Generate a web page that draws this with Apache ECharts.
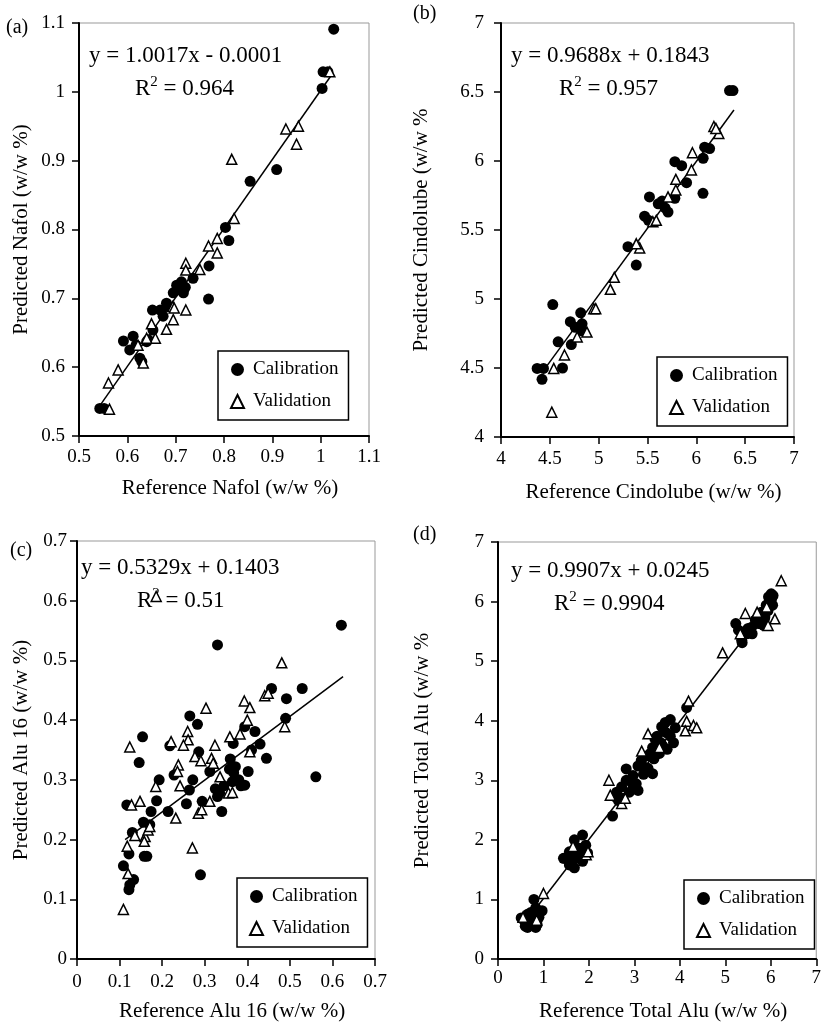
<!DOCTYPE html>
<html><head><meta charset="utf-8">
<script src="https://cdn.jsdelivr.net/npm/echarts@6/dist/echarts.min.js"></script>
<style>html,body{margin:0;padding:0;background:#fff}#c{width:824px;height:1023px}</style>
</head><body><div id="c"></div>
<script>
// ---------- data ----------
const seriesNames = ['Calibration', 'Validation'];

// (a) Nafol
const calA = [[1.027,1.091],[1.005,1.029],[1.015,1.029],[1.003,1.005],[0.909,0.887],[0.854,0.870],[0.803,0.803],[0.810,0.784],[0.769,0.747],[0.768,0.699],[0.736,0.729],[0.716,0.708],[0.712,0.724],[0.702,0.719],[0.695,0.708],[0.706,0.713],[0.720,0.716],[0.681,0.693],[0.674,0.674],[0.668,0.683],[0.684,0.688],[0.652,0.683],[0.653,0.654],[0.643,0.640],[0.640,0.637],[0.592,0.638],[0.612,0.645],[0.605,0.625],[0.626,0.613],[0.630,0.608],[0.618,0.632],[0.543,0.540],[0.552,0.540]];
const valA = [[1.019,1.029],[0.954,0.950],[0.928,0.946],[0.950,0.924],[0.816,0.902],[0.821,0.816],[0.786,0.787],[0.768,0.776],[0.786,0.766],[0.750,0.742],[0.721,0.751],[0.721,0.741],[0.721,0.683],[0.695,0.669],[0.694,0.688],[0.681,0.655],[0.697,0.686],[0.650,0.663],[0.658,0.642],[0.633,0.606],[0.581,0.596],[0.561,0.577],[0.563,0.539],[0.622,0.632],[0.640,0.642]];
const fitA = [[0.545,0.546],[1.025,1.027]];
const eqA = ['y = 1.0017x - 0.0001', '0.964'];

// (b) Cindolube
const calB = [[6.34,6.51],[6.375,6.51],[6.085,6.10],[6.136,6.09],[6.07,6.02],[5.78,5.995],[5.85,5.966],[5.90,5.843],[6.068,5.766],[5.78,5.73],[5.52,5.74],[5.61,5.69],[5.68,5.66],[5.71,5.63],[5.65,5.71],[5.47,5.60],[5.51,5.57],[5.30,5.379],[5.385,5.246],[4.53,4.96],[4.816,4.90],[4.71,4.836],[4.76,4.795],[4.83,4.82],[4.83,4.77],[4.585,4.69],[4.72,4.67],[4.37,4.497],[4.435,4.497],[4.42,4.418],[4.63,4.50]];
const valB = [[4.52,4.18],[4.54,4.497],[4.65,4.594],[4.88,4.76],[4.78,4.725],[4.95,4.93],[4.97,4.93],[5.12,5.07],[5.16,5.157],[5.42,5.37],[5.385,5.40],[5.555,5.56],[5.59,5.57],[5.71,5.74],[5.79,5.79],[5.79,5.867],[5.95,5.935],[5.96,6.06],[6.18,6.25],[6.23,6.20],[6.20,6.236]];
const fitB = [[4.47,4.515],[6.385,6.370]];
const eqB = ['y = 0.9688x + 0.1843', '0.957'];

// (c) Alu 16
const calC = [[0.621,0.559],[0.330,0.526],[0.529,0.453],[0.457,0.453],[0.492,0.436],[0.490,0.403],[0.265,0.407],[0.283,0.393],[0.154,0.372],[0.218,0.357],[0.146,0.329],[0.286,0.347],[0.394,0.389],[0.418,0.381],[0.367,0.361],[0.430,0.360],[0.410,0.350],[0.445,0.336],[0.360,0.335],[0.372,0.322],[0.358,0.318],[0.368,0.312],[0.402,0.314],[0.312,0.314],[0.228,0.308],[0.272,0.300],[0.193,0.300],[0.394,0.291],[0.365,0.297],[0.264,0.283],[0.325,0.285],[0.335,0.278],[0.345,0.290],[0.330,0.272],[0.187,0.265],[0.117,0.258],[0.257,0.260],[0.294,0.264],[0.174,0.247],[0.214,0.247],[0.340,0.247],[0.156,0.229],[0.171,0.225],[0.130,0.212],[0.122,0.176],[0.158,0.172],[0.164,0.172],[0.290,0.141],[0.109,0.156],[0.133,0.133],[0.124,0.124],[0.122,0.116],[0.561,0.305],[0.380,0.300],[0.385,0.290]];
const valC = [[0.186,0.607],[0.481,0.496],[0.393,0.432],[0.406,0.421],[0.441,0.441],[0.449,0.445],[0.488,0.389],[0.303,0.420],[0.260,0.381],[0.261,0.367],[0.250,0.358],[0.221,0.364],[0.124,0.355],[0.324,0.358],[0.359,0.372],[0.383,0.377],[0.400,0.400],[0.277,0.339],[0.291,0.332],[0.316,0.336],[0.320,0.328],[0.238,0.325],[0.236,0.314],[0.336,0.305],[0.406,0.347],[0.242,0.290],[0.185,0.289],[0.148,0.264],[0.128,0.258],[0.232,0.236],[0.285,0.244],[0.293,0.250],[0.312,0.264],[0.356,0.278],[0.365,0.279],[0.160,0.205],[0.158,0.197],[0.136,0.207],[0.118,0.189],[0.271,0.186],[0.120,0.143],[0.109,0.083],[0.167,0.216],[0.171,0.222]];
const fitC = [[0.113,0.200],[0.625,0.473]];
const eqC = ['y = 0.5329x + 0.1403', '0.51'];

// (d) Total Alu
const calD = [[6.01,6.13],[5.97,6.02],[5.90,5.94],[6.04,5.94],[5.79,5.82],[5.86,5.71],[5.68,5.69],[5.58,5.57],[5.47,5.46],[5.36,5.35],[5.23,5.63],[5.29,5.52],[5.37,5.31],[5.59,5.46],[5.73,5.63],[5.87,5.74],[5.94,5.85],[5.98,6.02],[5.84,5.60],[5.66,5.69],[6.05,6.10],[5.95,6.08],[5.50,5.55],[5.78,5.65],[6.02,6.05],
 [4.15,4.22],[3.79,4.02],[3.68,3.97],[3.90,3.88],[3.65,3.83],[3.79,3.74],[3.50,3.74],[3.58,3.63],[3.86,3.63],[3.72,3.52],[3.40,3.55],[3.29,3.41],[3.43,3.36],[3.15,3.33],[3.40,3.11],[3.08,3.24],[2.82,3.19],[2.97,3.08],[3.04,2.94],[2.82,3.00],[2.72,2.89],[2.89,2.80],[2.61,2.80],[2.65,2.66],[2.52,2.40],[3.01,2.91],[3.08,2.83],[2.58,2.72],[3.15,3.30],[3.55,3.45],[3.30,3.20],[3.60,3.90],[3.20,3.10],[2.75,2.70],[3.45,3.70],[3.70,3.80],[3.35,3.45],[2.95,2.95],[3.25,3.20],[3.62,3.58],
 [1.86,2.08],[1.68,2.00],[1.93,1.91],[1.79,1.86],[1.57,1.80],[1.97,1.78],[1.47,1.69],[1.71,1.69],[1.86,1.64],[1.57,1.58],[1.68,1.53],[1.44,1.69],[1.80,1.75],[1.62,1.65],[1.90,1.85],[1.75,1.80],[1.65,1.72],
 [0.65,0.53],[0.58,0.64],[0.51,0.69],[0.72,0.78],[0.83,0.86],[0.79,1.00],[0.97,0.81],[0.86,0.58],[0.72,0.58],[0.65,0.75],[0.83,0.53],[0.60,0.55],[0.75,0.68],[0.90,0.70],[0.70,0.65],[0.80,0.75]];
const valD = [[6.23,6.35],[6.09,5.71],[5.44,5.80],[5.70,5.82],[5.33,5.46],[4.94,5.14],[5.91,5.91],[5.94,5.60],[4.19,4.33],[4.15,3.99],[4.30,3.92],[4.37,3.88],[4.12,3.83],[3.30,3.78],[3.16,3.49],[2.44,3.00],[2.47,2.75],[2.72,2.61],[1.00,1.10],[1.94,1.75],[1.98,1.80],[1.65,1.89],[2.80,2.70],[3.55,3.55],[0.55,0.70],[0.85,0.65]];
const fitD = [[0.5,0.520],[5.9,5.870]];
const eqD = ['y = 0.9907x + 0.0245', '0.9904'];

// axis ranges / tick steps
const ticksA = {min: 0.5, max: 1.1, step: 0.1};
const ticksB = {min: 4, max: 7, step: 0.5};
const ticksC = {min: 0, max: 0.7, step: 0.1};
const ticksD = {min: 0, max: 7, step: 1};

const xNames = ['Reference Nafol (w/w %)', 'Reference Cindolube (w/w %)', 'Reference Alu 16 (w/w %)', 'Reference Total Alu (w/w %)'];
const yNames = ['Predicted Nafol (w/w %)', 'Predicted Cindolube (w/w %', 'Predicted Alu 16 (w/w %)', 'Predicted Total Alu (w/w %'];
const panelTags = ['(a)', '(b)', '(c)', '(d)'];

// ---------- layout ----------
const F = '"Liberation Serif", "Times New Roman", serif';
const layout = [
  {grid: {left: 79, top: 23, width: 290, height: 413}, yGap: 47, yMargin: 14, xGap: 42, xMargin: 12, legend: {left: 218, top: 351},
   tag: [6, 28], eq: [89, 56], r2: [135, 89]},
  {grid: {left: 501, top: 23, width: 293, height: 414}, yGap: 69, yMargin: 17, xGap: 45, xMargin: 13, legend: {left: 657, top: 357},
   tag: [413, 14], eq: [511, 56], r2: [559, 89]},
  {grid: {left: 77, top: 541, width: 298, height: 418}, yGap: 45, yMargin: 10, xGap: 42, xMargin: 14, legend: {left: 237, top: 878},
   tag: [10, 551], eq: [81, 568], r2: [137, 601]},
  {grid: {left: 498, top: 542, width: 326, height: 420}, yGap: 65, yMargin: 14, xGap: 42, xMargin: 10, legend: {left: 684, top: 880},
   tag: [413, 535], eq: [511, 571], r2: [554, 604]}
];
const ticks = [ticksA, ticksB, ticksC, ticksD];
const cals = [calA, calB, calC, calD];
const vals = [valA, valB, valC, valD];
const fits = [fitA, fitB, fitC, fitD];
const eqs = [eqA, eqB, eqC, eqD];

function axis(i, isX) {
  const t = ticks[i], L = layout[i];
  return {
    type: 'value', gridIndex: i, min: t.min, max: t.max, interval: t.step,
    name: isX ? xNames[i] : yNames[i], nameLocation: 'middle',
    nameGap: isX ? L.xGap : L.yGap,
    nameTextStyle: {fontFamily: F, fontSize: 21, color: '#000', padding: isX ? [0, 0, 0, 12] : 0},
    axisLine: {show: true, onZero: false, lineStyle: {color: '#000', width: 2}},
    axisTick: {show: true, inside: false, length: 7, lineStyle: {color: '#000', width: 1.5}},
    axisLabel: {fontFamily: F, fontSize: 19, color: '#000', margin: isX ? L.xMargin : L.yMargin, showMinLabel: true, showMaxLabel: true},
    splitLine: {show: false}
  };
}

const series = [];
const graphic = [];
for (let i = 0; i < 4; i++) {
  series.push({
    name: seriesNames[0], type: 'scatter', xAxisIndex: i, yAxisIndex: i, data: cals[i],
    symbol: 'circle', symbolSize: 11, itemStyle: {color: '#000', opacity: 1}, z: 3
  });
  series.push({
    name: seriesNames[1], type: 'scatter', xAxisIndex: i, yAxisIndex: i, data: vals[i],
    symbol: 'triangle', symbolSize: 10, itemStyle: {color: '#fff', borderColor: '#000', borderWidth: 1.5, opacity: 1}, z: 4
  });
  series.push({
    name: 'fit', type: 'line', xAxisIndex: i, yAxisIndex: i, data: fits[i], showSymbol: false, symbol: 'none',
    lineStyle: {color: '#000', width: 1.5}, z: 2, silent: true
  });
  const L = layout[i];
  graphic.push({type: 'text', x: L.tag[0], y: L.tag[1], z: 1,
    style: {text: panelTags[i], font: '20px ' + F, fill: '#000', verticalAlign: 'middle', align: 'left'}});
  graphic.push({type: 'text', x: L.eq[0], y: L.eq[1], z: 1,
    style: {text: eqs[i][0], font: '23px ' + F, fill: '#000', verticalAlign: 'middle', align: 'left'}});
  graphic.push({type: 'text', x: L.r2[0], y: L.r2[1], z: 1,
    style: {text: '{a|R}{s|2}{a| = ' + eqs[i][1] + '}', verticalAlign: 'middle', align: 'left',
      rich: {a: {fontFamily: F, fontSize: 23, lineHeight: 26, fill: '#000', color: '#000'},
             s: {fontFamily: F, fontSize: 15, lineHeight: 15, padding: [0, 0, 13, 0], fill: '#000', color: '#000'}}}});
}

const option = {
  backgroundColor: '#fff',
  animation: false,
  grid: layout.map(L => Object.assign({show: true, borderColor: '#999', borderWidth: 1, backgroundColor: 'transparent', containLabel: false}, L.grid)),
  xAxis: [0, 1, 2, 3].map(i => axis(i, true)),
  yAxis: [0, 1, 2, 3].map(i => axis(i, false)),
  legend: layout.map(L => ({
    data: seriesNames, orient: 'vertical', left: L.legend.left, top: L.legend.top,
    borderColor: '#000', borderWidth: 1.5, padding: [9, 10, 9, 12], itemGap: 13,
    itemWidth: 13, itemHeight: 13, selectedMode: false,
    textStyle: {fontFamily: F, fontSize: 19, color: '#000', padding: [0, 0, 0, 4]}
  })),
  series: series,
  graphic: graphic
};
const chart = echarts.init(document.getElementById('c'));
chart.setOption(option);
</script></body></html>
